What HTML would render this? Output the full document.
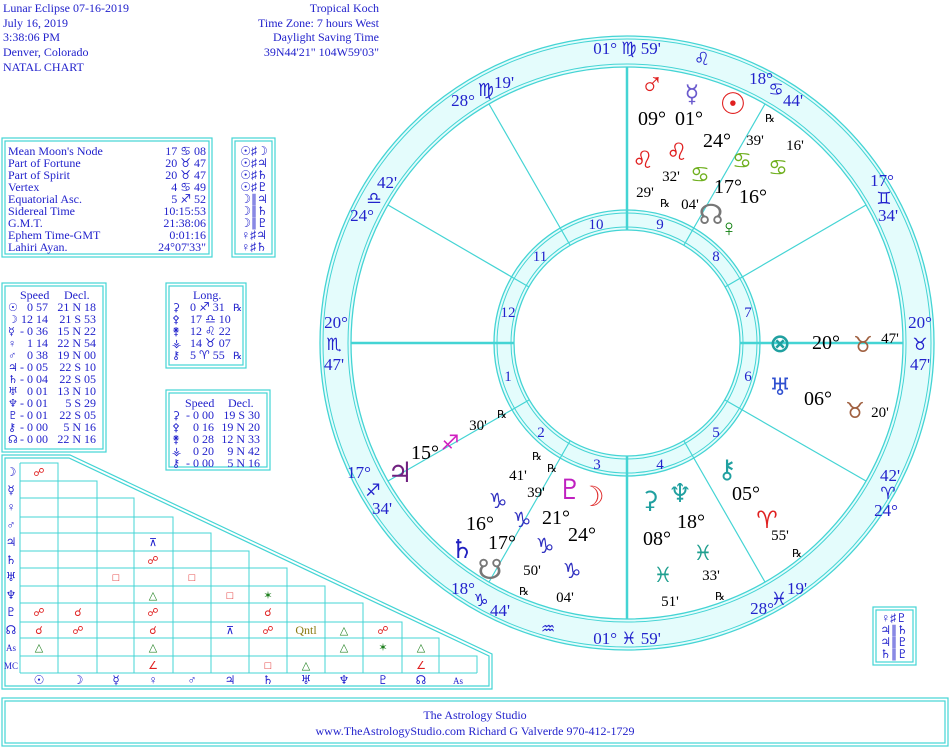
<!DOCTYPE html>
<html><head><meta charset="utf-8"><style>
html,body{margin:0;padding:0;background:#fff;}
svg{display:block;}
text{font-family:"Liberation Serif","DejaVu Sans",serif;}
.b{fill:#2222cc;font-size:12px;}
.g{font-family:"DejaVu Sans",sans-serif;}
.wl{fill:#2222cc;font-size:17px;text-anchor:middle;}
.deg{fill:#000;font-size:20px;text-anchor:middle;}
.min{fill:#000;font-size:15px;text-anchor:middle;}
.rx{fill:#000;font-size:11px;text-anchor:middle;font-family:"DejaVu Sans",sans-serif;}
.hn{fill:#2222cc;font-size:15px;text-anchor:middle;}
.pl{font-family:"DejaVu Sans",sans-serif;text-anchor:middle;font-weight:bold;}
.c{fill:#2222cc;font-size:12px;font-family:"DejaVu Sans",sans-serif;}
</style></head><body>
<svg width="951" height="750" viewBox="0 0 951 750" xmlns="http://www.w3.org/2000/svg">
<g stroke="#44d4d4" fill="none">
<path d="M627,36a307,307 0 1,0 0.01,0Z M627,67a276,276 0 1,1 -0.01,0Z" fill="#e4fcfc" fill-rule="evenodd" stroke="none"/>
<circle cx="627" cy="343" r="307" stroke-width="1.3"/>
<circle cx="627" cy="343" r="304" stroke-width="1"/>
<circle cx="627" cy="343" r="279" stroke-width="1"/>
<circle cx="627" cy="343" r="276" stroke-width="1.3"/>
<path d="M627,210a133,133 0 1,0 0.01,0Z M627,230a113,113 0 1,1 -0.01,0Z" fill="#e4fcfc" fill-rule="evenodd" stroke="none"/>
<circle cx="627" cy="343" r="133" stroke-width="1.3"/>
<circle cx="627" cy="343" r="130" stroke-width="1"/>
<circle cx="627" cy="343" r="116" stroke-width="1"/>
<circle cx="627" cy="343" r="113" stroke-width="1.3"/>
<g stroke-width="2.5">
<line x1="351" y1="343" x2="514" y2="343"/>
<line x1="740" y1="343" x2="903" y2="343"/>
<line x1="627" y1="67" x2="627" y2="230"/>
<line x1="627" y1="456" x2="627" y2="619"/>
</g>
<g stroke-width="1.2">
<line x1="570" y1="245" x2="489" y2="104"/>
<line x1="529" y1="287" x2="388" y2="205"/>
<line x1="529" y1="400" x2="388" y2="481"/>
<line x1="570" y1="441" x2="489" y2="582"/>
<line x1="684" y1="441" x2="765" y2="582"/>
<line x1="725" y1="400" x2="866" y2="481"/>
<line x1="725" y1="287" x2="866" y2="205"/>
<line x1="684" y1="245" x2="765" y2="104"/>
</g>
<g stroke-width="1.2">
<rect x="2" y="138" width="210" height="119"/><rect x="5" y="141" width="204" height="113"/>
<rect x="232" y="138" width="43" height="119"/><rect x="235" y="141" width="37" height="113"/>
<rect x="2" y="283" width="104" height="169"/><rect x="5" y="286" width="98" height="163"/>
<rect x="166" y="283" width="80" height="85"/><rect x="169" y="286" width="74" height="79"/>
<rect x="166" y="390" width="104" height="80"/><rect x="169" y="393" width="98" height="74"/>
<rect x="873" y="607" width="43" height="58"/><rect x="876" y="610" width="37" height="52"/>
<rect x="2" y="698" width="946" height="48"/><rect x="5" y="701" width="940" height="42"/>
<path d="M2,455 L70,455 L492,654 L492,689 L2,689 Z"/>
<path d="M5,458 L69,458 L489,656 L489,686 L5,686 Z"/>
</g>
<g stroke-width="1">
<path d="M20,463H58V481 M20,481H97V498 M20,498H134V517 M20,517H173V533 M20,533H211V551 M20,551H249V568 M20,568H287V586 M20,586H325V603 M20,603H363V622 M20,622H402V638 M20,638H439V656 M20,656H477V673 M20,673H477"/>
<path d="M20,463V673 M58,463V673 M97,481V673 M134,498V673 M173,517V673 M211,533V673 M249,551V673 M287,568V673 M325,586V673 M363,603V673 M402,622V673 M439,638V673"/>
</g>
</g>

<text class="b" x="3" y="12">Lunar Eclipse 07-16-2019</text>
<text class="b" x="3" y="27">July 16, 2019</text>
<text class="b" x="3" y="41">3:38:06 PM</text>
<text class="b" x="3" y="56">Denver, Colorado</text>
<text class="b" x="3" y="71">NATAL CHART</text>
<g text-anchor="end">
<text class="b" x="379" y="12">Tropical Koch</text>
<text class="b" x="379" y="27">Time Zone: 7 hours West</text>
<text class="b" x="379" y="41">Daylight Saving Time</text>
<text class="b" x="379" y="56">39N44'21"  104W59'03"</text>
</g>

<g class="b">
<text x="8" y="155">Mean Moon's Node</text><text x="8" y="167">Part of Fortune</text><text x="8" y="179">Part of Spirit</text><text x="8" y="191">Vertex</text><text x="8" y="203">Equatorial Asc.</text><text x="8" y="215">Sidereal Time</text><text x="8" y="227">G.M.T.</text><text x="8" y="239">Ephem Time-GMT</text><text x="8" y="251">Lahiri Ayan.</text>
</g>
<g class="b" text-anchor="end">
<text x="206" y="155">17 ♋ 08</text><text x="206" y="167">20 ♉ 47</text><text x="206" y="179">20 ♉ 47</text><text x="206" y="191">4 ♋ 49</text><text x="206" y="203">5 ♐ 52</text><text x="206" y="215">10:15:53</text><text x="206" y="227">21:38:06</text><text x="206" y="239">0:01:16</text><text x="206" y="251">24°07'33"</text>
</g>
<g class="c" font-size="11" text-anchor="middle">
<text x="254" y="155">☉♯☽</text><text x="254" y="167">☉♯♃</text><text x="254" y="179">☉♯♄</text><text x="254" y="191">☉♯♇</text><text x="254" y="203">☽∥♃</text><text x="254" y="215">☽∥♄</text><text x="254" y="227">☽∥♇</text><text x="254" y="239">♀♯♃</text><text x="254" y="251">♀♯♄</text>
</g>
<g class="c" font-size="11" text-anchor="middle">
<text x="894" y="622">♀♯♇</text><text x="894" y="634">♃∥♄</text><text x="894" y="646">♃∥♇</text><text x="894" y="658">♄∥♇</text>
</g>

<g class="b">
<text x="20" y="299">Speed</text><text x="64" y="299">Decl.</text>
<text x="193" y="299">Long.</text>
<text x="185" y="407">Speed</text><text x="228" y="407">Decl.</text>
</g>
<g class="b" font-size="12">
<g class="g" font-size="11"><text x="8" y="311">☉</text><text x="8" y="323">☽</text><text x="8" y="335">☿</text><text x="8" y="347">♀</text><text x="8" y="359">♂</text><text x="8" y="371">♃</text><text x="8" y="383">♄</text><text x="8" y="395">♅</text><text x="8" y="407">♆</text><text x="8" y="419">♇</text><text x="8" y="431">⚷</text><text x="8" y="443">☊</text></g>
<g text-anchor="end"><text x="48" y="311">0 57</text><text x="48" y="323">12 14</text><text x="48" y="335">- 0 36</text><text x="48" y="347">1 14</text><text x="48" y="359">0 38</text><text x="48" y="371">- 0 05</text><text x="48" y="383">- 0 04</text><text x="48" y="395">0 01</text><text x="48" y="407">- 0 01</text><text x="48" y="419">- 0 01</text><text x="48" y="431">- 0 00</text><text x="48" y="443">- 0 00</text></g>
<g text-anchor="end"><text x="96" y="311">21 N 18</text><text x="96" y="323">21 S 53</text><text x="96" y="335">15 N 22</text><text x="96" y="347">22 N 54</text><text x="96" y="359">19 N 00</text><text x="96" y="371">22 S 10</text><text x="96" y="383">22 S 05</text><text x="96" y="395">13 N 10</text><text x="96" y="407">5 S 29</text><text x="96" y="419">22 S 05</text><text x="96" y="431">5 N 16</text><text x="96" y="443">22 N 16</text></g>
<g class="g" font-size="11"><text x="172" y="311">⚳</text><text x="172" y="323">⚴</text><text x="172" y="335">⚵</text><text x="172" y="347">⚶</text><text x="172" y="359">⚷</text></g>
<text x="190" y="311">0 ♐ 31</text><text x="190" y="323">17 ♎ 10</text><text x="190" y="335">12 ♌ 22</text><text x="190" y="347">14 ♉ 07</text><text x="190" y="359">5 ♈ 55</text>
<text x="233" y="311" font-size="10">℞</text><text x="233" y="359" font-size="10">℞</text>
<g class="g" font-size="11"><text x="172" y="419">⚳</text><text x="172" y="431">⚴</text><text x="172" y="443">⚵</text><text x="172" y="455">⚶</text><text x="172" y="467">⚷</text></g>
<g text-anchor="end"><text x="214" y="419">- 0 00</text><text x="214" y="431">0 16</text><text x="214" y="443">0 28</text><text x="214" y="455">0 20</text><text x="214" y="467">- 0 00</text></g>
<g text-anchor="end"><text x="260" y="419">19 S 30</text><text x="260" y="431">19 N 20</text><text x="260" y="443">12 N 33</text><text x="260" y="455">9 N 42</text><text x="260" y="467">5 N 16</text></g>
</g>

<g class="c" font-size="11" text-anchor="middle">
<text x="11" y="476">☽</text><text x="11" y="494">☿</text><text x="11" y="511">♀</text><text x="11" y="529">♂</text><text x="11" y="546">♃</text><text x="11" y="564">♄</text><text x="11" y="581">♅</text><text x="11" y="599">♆</text><text x="11" y="616">♇</text><text x="11" y="634">☊</text><text x="11" y="651" font-family="Liberation Serif" font-size="9">As</text><text x="11" y="669" font-family="Liberation Serif" font-size="9">MC</text>
<text x="39" y="684">☉</text><text x="78" y="684">☽</text><text x="116" y="684">☿</text><text x="153" y="684">♀</text><text x="192" y="684">♂</text><text x="230" y="684">♃</text><text x="268" y="684">♄</text><text x="306" y="684">♅</text><text x="344" y="684">♆</text><text x="383" y="684">♇</text><text x="421" y="684">☊</text><text x="458" y="684" font-family="Liberation Serif" font-size="9">As</text>
</g>
<g font-family="DejaVu Sans" font-size="11" text-anchor="middle">
<g fill="#e02020"><text x="39" y="476">☍</text><text x="153" y="564">☍</text><text x="116" y="581">□</text><text x="192" y="581">□</text><text x="230" y="599">□</text>
<text x="39" y="616">☍</text><text x="78" y="616">☌</text><text x="153" y="616">☍</text><text x="268" y="616">☌</text>
<text x="39" y="634">☌</text><text x="78" y="634">☍</text><text x="153" y="634">☌</text><text x="268" y="634">☍</text><text x="383" y="634">☍</text>
<text x="153" y="669">∠</text><text x="268" y="669">□</text><text x="421" y="669">∠</text></g>
<g fill="#1a1acc"><text x="153" y="546">⊼</text><text x="230" y="634">⊼</text></g>
<g fill="#208020"><text x="153" y="599">△</text><text x="268" y="599">✶</text><text x="344" y="634">△</text>
<text x="39" y="651">△</text><text x="153" y="651">△</text><text x="344" y="651">△</text><text x="383" y="651">✶</text><text x="421" y="651">△</text><text x="306" y="669">△</text></g>
<text x="306" y="634" fill="#8a7a10" font-family="Liberation Serif" font-size="12">Qntl</text>
</g>

<g class="wl">
<text x="627" y="54">01° ♍ 59'</text>
<text x="463" y="106">28°</text><text x="486" y="96" font-size="18" class="g">♍</text><text x="504" y="88">19'</text>
<text x="387" y="188">42'</text><text x="374" y="204" font-size="17" class="g">♎</text><text x="362" y="221">24°</text>
<text x="336" y="328">20°</text><text x="334" y="350" font-size="17" class="g">♏</text><text x="334" y="370">47'</text>
<text x="359" y="478">17°</text><text x="373" y="496" font-size="17" class="g">♐</text><text x="382" y="514">34'</text>
<text x="463" y="594">18°</text><text x="481" y="606" font-size="17" class="g">♑</text><text x="500" y="616">44'</text>
<text x="548" y="634" font-size="16" class="g">♒</text>
<text x="627" y="644">01° ♓ 59'</text>
<text x="762" y="614">28°</text><text x="779" y="605" font-size="18" class="g">♓</text><text x="797" y="594">19'</text>
<text x="886" y="516">24°</text><text x="888" y="499" font-size="17" class="g">♈</text><text x="890" y="481">42'</text>
<text x="920" y="328">20°</text><text x="920" y="350" font-size="17" class="g">♉</text><text x="920" y="370">47'</text>
<text x="882" y="186">17°</text><text x="884" y="204" font-size="17" class="g">♊</text><text x="888" y="221">34'</text>
<text x="761" y="84">18°</text><text x="776" y="95" font-size="17" class="g">♋</text><text x="793" y="106">44'</text>
<text x="702" y="65" font-size="18" class="g">♌</text>
</g>

<g class="hn">
<text x="596" y="229">10</text><text x="660" y="229">9</text><text x="540" y="261">11</text><text x="716" y="261">8</text>
<text x="508" y="317">12</text><text x="748" y="317">7</text><text x="508" y="381">1</text><text x="748" y="381">6</text>
<text x="541" y="437">2</text><text x="716" y="437">5</text><text x="597" y="469">3</text><text x="660" y="469">4</text>
</g>

<g class="pl">
<text x="652" y="95" font-size="32" fill="#e02020">♂</text>
<text x="692" y="102" font-size="24" fill="#6a5acd">☿</text>
<text x="733" y="114" font-size="30" fill="#e02020">☉</text>
<text x="643" y="168" font-size="24" fill="#e02020">♌</text>
<text x="677" y="160" font-size="24" fill="#e02020">♌</text>
<text x="700" y="182" font-size="22" fill="#70b020">♋</text>
<text x="742" y="168" font-size="22" fill="#70b020">♋</text>
<text x="778" y="175" font-size="22" fill="#70b020">♋</text>
<text x="711" y="224" font-size="28" fill="#777">☊</text>
<text x="729" y="236" font-size="24" fill="#108010">♀</text>
<text x="780" y="352" font-size="26" fill="#20a0a0">⊗</text>
<text x="863" y="352" font-size="22" fill="#a06040">♉</text>
<text x="780" y="395" font-size="24" fill="#3050d0">♅</text>
<text x="855" y="418" font-size="22" fill="#a06040">♉</text>
<text x="727" y="478" font-size="26" fill="#20a0a0">⚷</text>
<text x="767" y="528" font-size="24" fill="#e02020">♈</text>
<text x="650" y="508" font-size="24" fill="#20a0a0">⚳</text>
<text x="680" y="502" font-size="26" fill="#20a0a0">♆</text>
<text x="703" y="560" font-size="21" fill="#20a090">♓</text>
<text x="663" y="582" font-size="21" fill="#20a090">♓</text>
<text x="400" y="482" font-size="28" fill="#702080">♃</text>
<text x="450" y="450" font-size="21" fill="#d020c0">♐</text>
<text x="570" y="499" font-size="28" fill="#c020c0">♇</text>
<text x="592" y="506" font-size="28" fill="#e03030">☽</text>
<text x="498" y="508" font-size="21" fill="#3030c0">♑</text>
<text x="522" y="527" font-size="21" fill="#3030c0">♑</text>
<text x="545" y="553" font-size="21" fill="#3030c0">♑</text>
<text x="572" y="578" font-size="21" fill="#3030c0">♑</text>
<text x="462" y="558" font-size="26" fill="#2020c0">♄</text>
<text x="490" y="579" font-size="28" fill="#777">☋</text>
</g>
<g class="deg">
<text x="652" y="125">09°</text><text x="689" y="125">01°</text><text x="717" y="147">24°</text>
<text x="728" y="193">17°</text><text x="753" y="203">16°</text>
<text x="826" y="349">20°</text><text x="818" y="405">06°</text>
<text x="746" y="500">05°</text><text x="691" y="528">18°</text><text x="657" y="545">08°</text>
<text x="425" y="459">15°</text><text x="480" y="530">16°</text><text x="556" y="524">21°</text><text x="582" y="541">24°</text><text x="502" y="549">17°</text>
</g>
<g class="min">
<text x="755" y="145">39'</text><text x="795" y="150">16'</text><text x="671" y="181">32'</text><text x="645" y="197">29'</text><text x="690" y="209">04'</text>
<text x="890" y="343">47'</text><text x="880" y="417">20'</text><text x="780" y="540">55'</text>
<text x="711" y="580">33'</text><text x="670" y="606">51'</text>
<text x="478" y="430">30'</text><text x="518" y="480">41'</text><text x="536" y="497">39'</text><text x="532" y="575">50'</text><text x="565" y="602">04'</text>
</g>
<g class="rx">
<text x="770" y="122">℞</text><text x="665" y="207">℞</text><text x="797" y="557">℞</text><text x="720" y="600">℞</text>
<text x="502" y="418">℞</text><text x="537" y="460">℞</text><text x="552" y="472">℞</text><text x="524" y="595">℞</text>
</g>

<text class="b" x="475" y="719" text-anchor="middle">The Astrology Studio</text>
<text class="b" x="475" y="735" text-anchor="middle">www.TheAstrologyStudio.com   Richard G Valverde   970-412-1729</text>
</svg>
</body></html>
